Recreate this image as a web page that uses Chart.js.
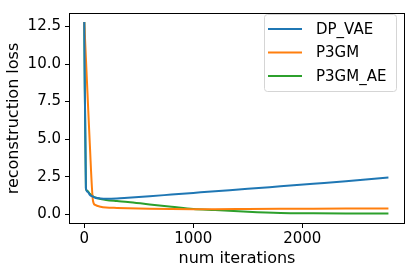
<!DOCTYPE html>
<html>
<head>
<meta charset="utf-8">
<script src="https://cdn.jsdelivr.net/npm/chart.js@4/dist/chart.umd.min.js"></script>
<style>
  html, body { margin: 0; padding: 0; background: #fff; }
  #wrap { width: 410px; height: 272px; }
</style>
</head>
<body>
<div id="wrap"><canvas id="lossChart"></canvas></div>
<script>
const iterations = [0, 15, 30, 50, 80, 100, 150, 200, 300, 400, 600, 800, 1000, 1200, 1500, 1800, 2100, 2400, 2790];
const dpVae  = [12.8, 1.75, 1.5, 1.3, 1.17, 1.1, 1.05, 1.03, 1.05, 1.1, 1.2, 1.31, 1.42, 1.53, 1.69, 1.86, 2.03, 2.2, 2.45];
const p3gm   = [12.8, 10.4, 8.0, 4.8, 0.9, 0.62, 0.5, 0.45, 0.42, 0.4, 0.37, 0.35, 0.34, 0.34, 0.35, 0.36, 0.37, 0.38, 0.39];
const p3gmAe = [12.8, 1.7, 1.55, 1.37, 1.2, 1.12, 1.02, 0.95, 0.88, 0.82, 0.65, 0.5, 0.35, 0.28, 0.16, 0.08, 0.06, 0.05, 0.05];
const yTicks = [0, 2.5, 5, 7.5, 10, 12.5];
const xTicks = [0, 1000, 2000];

const seriesLabels = ['DP_VAE', 'P3GM', 'P3GM_AE'];
const seriesColors = ['#1f77b4', '#ff7f0e', '#2ca02c'];
const seriesValues = [dpVae, p3gm, p3gmAe];

const font = 'DejaVu Sans';

// frame around the plot + legend box in the upper right
const framePlugin = {
  id: 'frameAndLegend',
  afterDraw(chart) {
    const c = chart.ctx;
    const a = chart.chartArea;
    c.save();
    c.strokeStyle = '#000';
    c.lineWidth = 1;
    c.strokeRect(Math.round(a.left) + 0.5, Math.round(a.top) + 0.5,
      Math.round(a.right - a.left) - 1, Math.round(a.bottom - a.top) - 1);

    const bx = 264, by = 14, bw = 132, bh = 77;
    c.beginPath();
    c.roundRect(bx + 0.5, by + 0.5, bw, bh, 3);
    c.fillStyle = 'rgba(255,255,255,0.8)';
    c.fill();
    c.strokeStyle = '#d5d5d5';
    c.stroke();

    c.font = '15px "' + font + '"';
    c.textBaseline = 'middle';
    c.textAlign = 'left';
    chart.data.datasets.forEach((ds, i) => {
      const y = 29 + i * 23.5;
      c.strokeStyle = ds.borderColor;
      c.lineWidth = 2;
      c.beginPath();
      c.moveTo(268, y);
      c.lineTo(302, y);
      c.stroke();
      c.fillStyle = '#000';
      c.fillText(ds.label, 316, y + 1);
    });
    c.restore();
  }
};

new Chart(document.getElementById('lossChart'), {
  type: 'line',
  data: {
    datasets: seriesLabels.map((label, i) => ({
      label: label,
      data: iterations.map((x, j) => ({ x: x, y: seriesValues[i][j] })),
      borderColor: seriesColors[i],
      backgroundColor: seriesColors[i],
      borderWidth: 2,
      pointRadius: 0,
      cubicInterpolationMode: 'monotone'
    }))
  },
  options: {
    responsive: true,
    maintainAspectRatio: false,
    animation: false,
    layout: { padding: { top: 7, right: 5, left: 0, bottom: 0 } },
    plugins: {
      legend: { display: false },
      tooltip: { enabled: false }
    },
    scales: {
      x: {
        type: 'linear',
        min: -140,
        max: 2942,
        afterBuildTicks: s => { s.ticks = xTicks.map(v => ({ value: v })); },
        afterFit: s => { s.height = 48; },
        ticks: {
          color: '#000',
          font: { family: font, size: 15 },
          padding: 2,
          maxRotation: 0,
          callback: v => String(v)
        },
        grid: { display: true, drawOnChartArea: false, drawTicks: true, tickLength: 4, color: '#000' },
        border: { display: false },
        title: { display: true, text: 'num iterations', color: '#000', font: { family: font, size: 16 } }
      },
      y: {
        min: -0.65,
        max: 13.4,
        afterBuildTicks: s => { s.ticks = yTicks.map(v => ({ value: v })); },
        afterFit: s => { s.width = 69; },
        ticks: {
          color: '#000',
          font: { family: font, size: 15 },
          padding: 4,
          callback: v => Number(v).toFixed(1)
        },
        grid: { display: true, drawOnChartArea: false, drawTicks: true, tickLength: 4, color: '#000' },
        border: { display: false },
        title: { display: true, text: 'reconstruction loss', color: '#000', font: { family: font, size: 16 } }
      }
    }
  },
  plugins: [framePlugin]
});
</script>
</body>
</html>
